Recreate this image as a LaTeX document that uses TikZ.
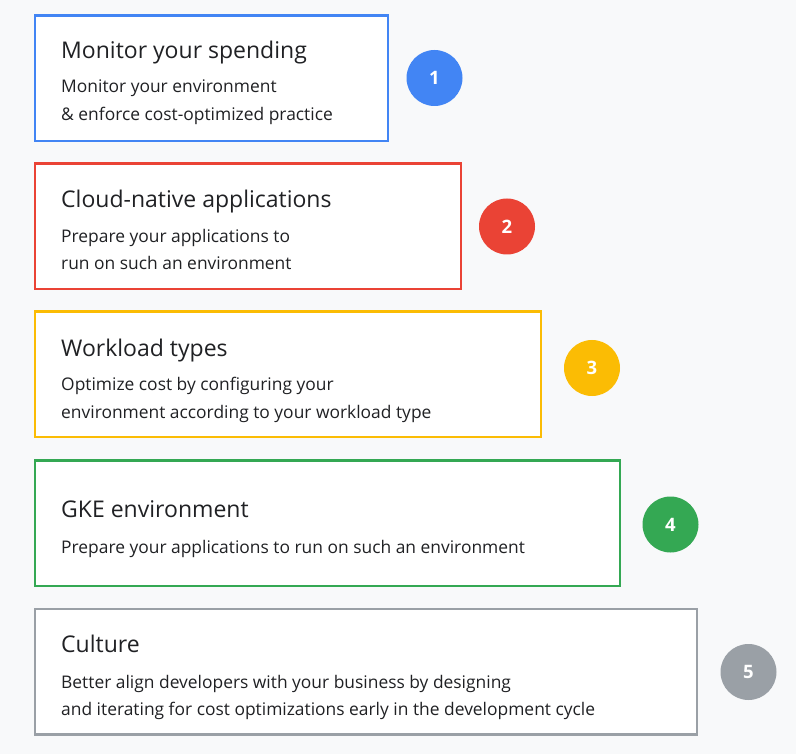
\documentclass[tikz,border=0pt]{standalone}
\usepackage{fontspec}
\setmainfont{Open Sans}
\usetikzlibrary{positioning}
\definecolor{gblue}{HTML}{4285F4}
\definecolor{gred}{HTML}{EA4335}
\definecolor{gyellow}{HTML}{FBBC04}
\definecolor{ggreen}{HTML}{34A853}
\definecolor{ggray}{HTML}{9AA0A6}
\definecolor{pagebg}{HTML}{F8F9FA}
\definecolor{ink}{HTML}{202124}

\begin{document}
\begin{tikzpicture}[x=1pt, y=-1pt]
    % ===== styles =====
    \tikzset{
        % white card with coloured frame
        card/.style={draw=#1, line width=2.8pt, fill=white, inner sep=0pt, outer sep=0pt,
            anchor=north west, minimum height=125.5pt},
        % numbered badge on the right
        badge/.style={circle, fill=#1, minimum size=56pt, inner sep=0pt, text=white,
            font=\fontsize{18.5}{18}\selectfont\bfseries},
        % card heading
        cardtitle/.style={anchor=base west, inner sep=0pt, text=ink, font=\fontsize{23}{23}\selectfont},
        % card text line
        cardtext/.style={anchor=base west, inner sep=0pt, text=ink, font=\fontsize{17.4}{17}\selectfont}
    }

    % background
    \fill[pagebg] (0,0) rectangle (796,754);
    \useasboundingbox (0,0) rectangle (796,754);

    % ===== 1: monitor =====
    \node[card=gblue, minimum width=353pt] (card1) at (35,15.5) {};
    \node[cardtitle] (title1) at (61,59) {Monitor your spending};
    \node[cardtext] (text1a) at (61,93) {Monitor your environment};
    \node[cardtext] (text1b) at (61,120.5) {\& enforce cost-optimized practice};
    \node[badge=gblue] (num1) at (434.5,78) {1};

    % ===== 2: cloud-native =====
    \node[card=gred, minimum width=426pt] (card2) at (35,163.5) {};
    \node[cardtitle] (title2) at (61,207.5) {Cloud-native applications};
    \node[cardtext] (text2a) at (61,243) {Prepare your applications to};
    \node[cardtext] (text2b) at (61,269.5) {run on such an environment};
    \node[badge=gred] (num2) at (507,226.5) {2};

    % ===== 3: workload =====
    \node[card=gyellow, minimum width=506pt] (card3) at (35,311.5) {};
    \node[cardtitle] (title3) at (61,356) {Workload types};
    \node[cardtext] (text3a) at (61,391) {Optimize cost by configuring your};
    \node[cardtext] (text3b) at (61,418) {environment according to your workload type};
    \node[badge=gyellow] (num3) at (592,368) {3};

    % ===== 4: GKE =====
    \node[card=ggreen, minimum width=585pt] (card4) at (35,460.5) {};
    \node[cardtitle] (title4) at (61,517) {GKE environment};
    \node[cardtext] (text4a) at (61,553) {Prepare your applications to run on such an environment};
    \node[badge=ggreen] (num4) at (670.5,524.5) {4};

    % ===== 5: culture =====
    \node[card=ggray, minimum width=662pt] (card5) at (35,609) {};
    \node[cardtitle] (title5) at (61,652) {Culture};
    \node[cardtext] (text5a) at (61,688) {Better align developers with your business by designing};
    \node[cardtext] (text5b) at (61,715) {and iterating for cost optimizations early in the development cycle};
    \node[badge=ggray] (num5) at (748.5,672) {5};
\end{tikzpicture}
\end{document}
